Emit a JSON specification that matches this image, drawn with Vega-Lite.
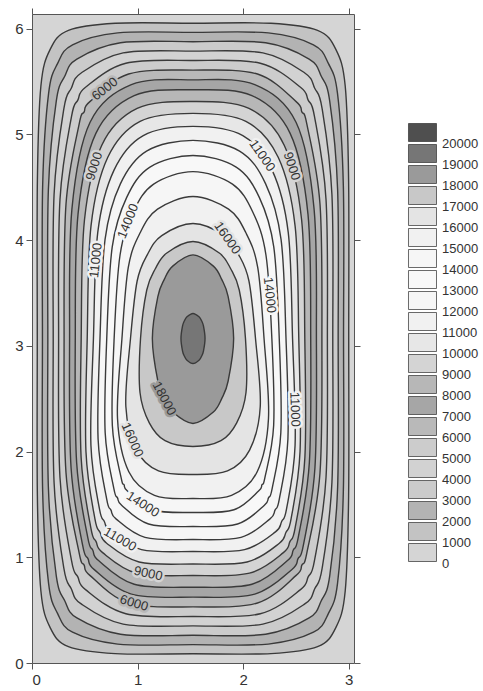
{
"$schema": "https://vega.github.io/schema/vega-lite/v6.json",
"width": 322, "height": 649,
"padding": {"left": 5, "top": 5, "right": 5, "bottom": 5},
"config": {
 "view": {"stroke": null, "fill": "#d5d5d5"},
 "axis": {"domainColor": "#555", "tickColor": "#555", "labelFont": "Liberation Sans", "labelFontSize": 15, "labelColor": "#333", "grid": false, "title": null, "tickSize": 6, "labelPadding": 3}
},
"datasets": {
"contours": [
{"level":1000,"i":0,"x":3.000,"y":3.070},{"level":1000,"i":1,"x":2.999,"y":4.562},{"level":1000,"i":2,"x":2.967,"y":5.456},{"level":1000,"i":3,"x":2.878,"y":5.805},{"level":1000,"i":4,"x":2.705,"y":5.985},{"level":1000,"i":5,"x":2.263,"y":6.052},{"level":1000,"i":6,"x":1.525,"y":6.053},{"level":1000,"i":7,"x":0.788,"y":6.052},{"level":1000,"i":8,"x":0.345,"y":5.985},{"level":1000,"i":9,"x":0.172,"y":5.805},{"level":1000,"i":10,"x":0.084,"y":5.456},{"level":1000,"i":11,"x":0.051,"y":4.562},{"level":1000,"i":12,"x":0.050,"y":3.070},{"level":1000,"i":13,"x":0.051,"y":1.578},{"level":1000,"i":14,"x":0.084,"y":0.684},{"level":1000,"i":15,"x":0.172,"y":0.335},{"level":1000,"i":16,"x":0.345,"y":0.155},{"level":1000,"i":17,"x":0.788,"y":0.089},{"level":1000,"i":18,"x":1.525,"y":0.087},{"level":1000,"i":19,"x":2.263,"y":0.089},{"level":1000,"i":20,"x":2.705,"y":0.155},{"level":1000,"i":21,"x":2.878,"y":0.335},{"level":1000,"i":22,"x":2.967,"y":0.684},{"level":1000,"i":23,"x":2.999,"y":1.578},
{"level":2000,"i":0,"x":2.951,"y":3.070},{"level":2000,"i":1,"x":2.949,"y":4.518},{"level":2000,"i":2,"x":2.894,"y":5.387},{"level":2000,"i":3,"x":2.807,"y":5.673},{"level":2000,"i":4,"x":2.666,"y":5.849},{"level":2000,"i":5,"x":2.238,"y":5.961},{"level":2000,"i":6,"x":1.525,"y":5.966},{"level":2000,"i":7,"x":0.812,"y":5.961},{"level":2000,"i":8,"x":0.384,"y":5.849},{"level":2000,"i":9,"x":0.243,"y":5.673},{"level":2000,"i":10,"x":0.157,"y":5.387},{"level":2000,"i":11,"x":0.101,"y":4.518},{"level":2000,"i":12,"x":0.099,"y":3.070},{"level":2000,"i":13,"x":0.101,"y":1.622},{"level":2000,"i":14,"x":0.157,"y":0.753},{"level":2000,"i":15,"x":0.243,"y":0.467},{"level":2000,"i":16,"x":0.384,"y":0.291},{"level":2000,"i":17,"x":0.812,"y":0.179},{"level":2000,"i":18,"x":1.525,"y":0.174},{"level":2000,"i":19,"x":2.238,"y":0.179},{"level":2000,"i":20,"x":2.666,"y":0.291},{"level":2000,"i":21,"x":2.807,"y":0.467},{"level":2000,"i":22,"x":2.894,"y":0.753},{"level":2000,"i":23,"x":2.949,"y":1.622},
{"level":3000,"i":0,"x":2.900,"y":3.070},{"level":3000,"i":1,"x":2.895,"y":4.474},{"level":3000,"i":2,"x":2.820,"y":5.316},{"level":3000,"i":3,"x":2.740,"y":5.551},{"level":3000,"i":4,"x":2.625,"y":5.714},{"level":3000,"i":5,"x":2.213,"y":5.868},{"level":3000,"i":6,"x":1.525,"y":5.878},{"level":3000,"i":7,"x":0.838,"y":5.868},{"level":3000,"i":8,"x":0.425,"y":5.714},{"level":3000,"i":9,"x":0.310,"y":5.551},{"level":3000,"i":10,"x":0.230,"y":5.316},{"level":3000,"i":11,"x":0.155,"y":4.474},{"level":3000,"i":12,"x":0.150,"y":3.070},{"level":3000,"i":13,"x":0.155,"y":1.666},{"level":3000,"i":14,"x":0.230,"y":0.824},{"level":3000,"i":15,"x":0.310,"y":0.589},{"level":3000,"i":16,"x":0.425,"y":0.426},{"level":3000,"i":17,"x":0.838,"y":0.272},{"level":3000,"i":18,"x":1.525,"y":0.262},{"level":3000,"i":19,"x":2.213,"y":0.272},{"level":3000,"i":20,"x":2.625,"y":0.426},{"level":3000,"i":21,"x":2.740,"y":0.589},{"level":3000,"i":22,"x":2.820,"y":0.824},{"level":3000,"i":23,"x":2.895,"y":1.666},
{"level":4000,"i":0,"x":2.849,"y":3.070},{"level":4000,"i":1,"x":2.841,"y":4.430},{"level":4000,"i":2,"x":2.748,"y":5.245},{"level":4000,"i":3,"x":2.678,"y":5.437},{"level":4000,"i":4,"x":2.584,"y":5.582},{"level":4000,"i":5,"x":2.187,"y":5.772},{"level":4000,"i":6,"x":1.525,"y":5.789},{"level":4000,"i":7,"x":0.863,"y":5.772},{"level":4000,"i":8,"x":0.466,"y":5.582},{"level":4000,"i":9,"x":0.372,"y":5.437},{"level":4000,"i":10,"x":0.302,"y":5.245},{"level":4000,"i":11,"x":0.209,"y":4.430},{"level":4000,"i":12,"x":0.201,"y":3.070},{"level":4000,"i":13,"x":0.209,"y":1.710},{"level":4000,"i":14,"x":0.302,"y":0.895},{"level":4000,"i":15,"x":0.372,"y":0.703},{"level":4000,"i":16,"x":0.466,"y":0.559},{"level":4000,"i":17,"x":0.863,"y":0.368},{"level":4000,"i":18,"x":1.525,"y":0.351},{"level":4000,"i":19,"x":2.187,"y":0.368},{"level":4000,"i":20,"x":2.584,"y":0.559},{"level":4000,"i":21,"x":2.678,"y":0.703},{"level":4000,"i":22,"x":2.748,"y":0.895},{"level":4000,"i":23,"x":2.841,"y":1.710},
{"level":5000,"i":0,"x":2.798,"y":3.070},{"level":5000,"i":1,"x":2.785,"y":4.385},{"level":5000,"i":2,"x":2.675,"y":5.174},{"level":5000,"i":3,"x":2.616,"y":5.325},{"level":5000,"i":4,"x":2.543,"y":5.447},{"level":5000,"i":5,"x":2.162,"y":5.674},{"level":5000,"i":6,"x":1.525,"y":5.700},{"level":5000,"i":7,"x":0.889,"y":5.674},{"level":5000,"i":8,"x":0.507,"y":5.447},{"level":5000,"i":9,"x":0.434,"y":5.325},{"level":5000,"i":10,"x":0.375,"y":5.174},{"level":5000,"i":11,"x":0.265,"y":4.385},{"level":5000,"i":12,"x":0.252,"y":3.070},{"level":5000,"i":13,"x":0.265,"y":1.755},{"level":5000,"i":14,"x":0.375,"y":0.966},{"level":5000,"i":15,"x":0.434,"y":0.815},{"level":5000,"i":16,"x":0.507,"y":0.694},{"level":5000,"i":17,"x":0.889,"y":0.466},{"level":5000,"i":18,"x":1.525,"y":0.440},{"level":5000,"i":19,"x":2.162,"y":0.466},{"level":5000,"i":20,"x":2.543,"y":0.694},{"level":5000,"i":21,"x":2.616,"y":0.815},{"level":5000,"i":22,"x":2.675,"y":0.966},{"level":5000,"i":23,"x":2.785,"y":1.755},
{"level":6000,"i":0,"x":2.746,"y":3.070},{"level":6000,"i":1,"x":2.728,"y":4.340},{"level":6000,"i":2,"x":2.603,"y":5.101},{"level":6000,"i":3,"x":2.556,"y":5.214},{"level":6000,"i":4,"x":2.502,"y":5.311},{"level":6000,"i":5,"x":2.136,"y":5.572},{"level":6000,"i":6,"x":1.525,"y":5.609},{"level":6000,"i":7,"x":0.915,"y":5.572},{"level":6000,"i":8,"x":0.548,"y":5.311},{"level":6000,"i":9,"x":0.494,"y":5.214},{"level":6000,"i":10,"x":0.447,"y":5.101},{"level":6000,"i":11,"x":0.322,"y":4.340},{"level":6000,"i":12,"x":0.304,"y":3.070},{"level":6000,"i":13,"x":0.322,"y":1.800},{"level":6000,"i":14,"x":0.447,"y":1.039},{"level":6000,"i":15,"x":0.494,"y":0.926},{"level":6000,"i":16,"x":0.548,"y":0.829},{"level":6000,"i":17,"x":0.915,"y":0.568},{"level":6000,"i":18,"x":1.525,"y":0.531},{"level":6000,"i":19,"x":2.136,"y":0.568},{"level":6000,"i":20,"x":2.502,"y":0.829},{"level":6000,"i":21,"x":2.556,"y":0.926},{"level":6000,"i":22,"x":2.603,"y":1.039},{"level":6000,"i":23,"x":2.728,"y":1.800},
{"level":7000,"i":0,"x":2.694,"y":3.070},{"level":7000,"i":1,"x":2.672,"y":4.294},{"level":7000,"i":2,"x":2.502,"y":5.114},{"level":7000,"i":3,"x":2.110,"y":5.472},{"level":7000,"i":4,"x":1.525,"y":5.517},{"level":7000,"i":5,"x":0.941,"y":5.472},{"level":7000,"i":6,"x":0.549,"y":5.114},{"level":7000,"i":7,"x":0.378,"y":4.294},{"level":7000,"i":8,"x":0.356,"y":3.070},{"level":7000,"i":9,"x":0.370,"y":1.847},{"level":7000,"i":10,"x":0.480,"y":1.112},{"level":7000,"i":11,"x":0.530,"y":0.987},{"level":7000,"i":12,"x":0.590,"y":0.883},{"level":7000,"i":13,"x":0.941,"y":0.652},{"level":7000,"i":14,"x":1.525,"y":0.623},{"level":7000,"i":15,"x":2.110,"y":0.652},{"level":7000,"i":16,"x":2.460,"y":0.883},{"level":7000,"i":17,"x":2.520,"y":0.987},{"level":7000,"i":18,"x":2.570,"y":1.112},{"level":7000,"i":19,"x":2.680,"y":1.847},
{"level":8000,"i":0,"x":2.640,"y":3.070},{"level":8000,"i":1,"x":2.614,"y":4.247},{"level":8000,"i":2,"x":2.445,"y":5.011},{"level":8000,"i":3,"x":2.083,"y":5.368},{"level":8000,"i":4,"x":1.525,"y":5.423},{"level":8000,"i":5,"x":0.968,"y":5.368},{"level":8000,"i":6,"x":0.605,"y":5.011},{"level":8000,"i":7,"x":0.436,"y":4.247},{"level":8000,"i":8,"x":0.410,"y":3.070},{"level":8000,"i":9,"x":0.423,"y":1.894},{"level":8000,"i":10,"x":0.528,"y":1.188},{"level":8000,"i":11,"x":0.576,"y":1.067},{"level":8000,"i":12,"x":0.633,"y":0.967},{"level":8000,"i":13,"x":0.968,"y":0.745},{"level":8000,"i":14,"x":1.525,"y":0.717},{"level":8000,"i":15,"x":2.083,"y":0.745},{"level":8000,"i":16,"x":2.417,"y":0.967},{"level":8000,"i":17,"x":2.474,"y":1.067},{"level":8000,"i":18,"x":2.522,"y":1.188},{"level":8000,"i":19,"x":2.627,"y":1.894},
{"level":9000,"i":0,"x":2.584,"y":3.070},{"level":9000,"i":1,"x":2.554,"y":4.191},{"level":9000,"i":2,"x":2.389,"y":4.899},{"level":9000,"i":3,"x":2.055,"y":5.247},{"level":9000,"i":4,"x":1.525,"y":5.312},{"level":9000,"i":5,"x":0.996,"y":5.247},{"level":9000,"i":6,"x":0.661,"y":4.899},{"level":9000,"i":7,"x":0.497,"y":4.191},{"level":9000,"i":8,"x":0.466,"y":3.070},{"level":9000,"i":9,"x":0.465,"y":1.949},{"level":9000,"i":10,"x":0.558,"y":1.276},{"level":9000,"i":11,"x":0.607,"y":1.148},{"level":9000,"i":12,"x":0.669,"y":1.044},{"level":9000,"i":13,"x":0.990,"y":0.850},{"level":9000,"i":14,"x":1.525,"y":0.828},{"level":9000,"i":15,"x":2.060,"y":0.850},{"level":9000,"i":16,"x":2.381,"y":1.044},{"level":9000,"i":17,"x":2.443,"y":1.148},{"level":9000,"i":18,"x":2.492,"y":1.276},{"level":9000,"i":19,"x":2.585,"y":1.949},
{"level":10000,"i":0,"x":2.527,"y":3.070},{"level":10000,"i":1,"x":2.492,"y":4.135},{"level":10000,"i":2,"x":2.332,"y":4.785},{"level":10000,"i":3,"x":2.026,"y":5.125},{"level":10000,"i":4,"x":1.525,"y":5.200},{"level":10000,"i":5,"x":1.024,"y":5.125},{"level":10000,"i":6,"x":0.718,"y":4.785},{"level":10000,"i":7,"x":0.559,"y":4.135},{"level":10000,"i":8,"x":0.523,"y":3.070},{"level":10000,"i":9,"x":0.511,"y":2.003},{"level":10000,"i":10,"x":0.596,"y":1.363},{"level":10000,"i":11,"x":0.645,"y":1.235},{"level":10000,"i":12,"x":0.707,"y":1.133},{"level":10000,"i":13,"x":1.014,"y":0.956},{"level":10000,"i":14,"x":1.525,"y":0.937},{"level":10000,"i":15,"x":2.037,"y":0.956},{"level":10000,"i":16,"x":2.343,"y":1.133},{"level":10000,"i":17,"x":2.405,"y":1.235},{"level":10000,"i":18,"x":2.454,"y":1.363},{"level":10000,"i":19,"x":2.539,"y":2.003},
{"level":11000,"i":0,"x":2.468,"y":3.070},{"level":11000,"i":1,"x":2.427,"y":4.074},{"level":11000,"i":2,"x":2.274,"y":4.663},{"level":11000,"i":3,"x":1.997,"y":4.990},{"level":11000,"i":4,"x":1.525,"y":5.077},{"level":11000,"i":5,"x":1.054,"y":4.990},{"level":11000,"i":6,"x":0.777,"y":4.663},{"level":11000,"i":7,"x":0.623,"y":4.074},{"level":11000,"i":8,"x":0.582,"y":3.070},{"level":11000,"i":9,"x":0.558,"y":2.062},{"level":11000,"i":10,"x":0.639,"y":1.458},{"level":11000,"i":11,"x":0.686,"y":1.337},{"level":11000,"i":12,"x":0.744,"y":1.240},{"level":11000,"i":13,"x":1.037,"y":1.073},{"level":11000,"i":14,"x":1.525,"y":1.055},{"level":11000,"i":15,"x":2.013,"y":1.073},{"level":11000,"i":16,"x":2.306,"y":1.240},{"level":11000,"i":17,"x":2.364,"y":1.337},{"level":11000,"i":18,"x":2.411,"y":1.458},{"level":11000,"i":19,"x":2.492,"y":2.062},
{"level":12000,"i":0,"x":2.406,"y":3.070},{"level":12000,"i":1,"x":2.359,"y":4.007},{"level":12000,"i":2,"x":2.213,"y":4.533},{"level":12000,"i":3,"x":1.966,"y":4.843},{"level":12000,"i":4,"x":1.525,"y":4.944},{"level":12000,"i":5,"x":1.085,"y":4.843},{"level":12000,"i":6,"x":0.837,"y":4.533},{"level":12000,"i":7,"x":0.692,"y":4.007},{"level":12000,"i":8,"x":0.644,"y":3.070},{"level":12000,"i":9,"x":0.626,"y":2.119},{"level":12000,"i":10,"x":0.708,"y":1.549},{"level":12000,"i":11,"x":0.748,"y":1.446},{"level":12000,"i":12,"x":0.798,"y":1.361},{"level":12000,"i":13,"x":1.070,"y":1.189},{"level":12000,"i":14,"x":1.525,"y":1.168},{"level":12000,"i":15,"x":1.980,"y":1.189},{"level":12000,"i":16,"x":2.252,"y":1.361},{"level":12000,"i":17,"x":2.302,"y":1.446},{"level":12000,"i":18,"x":2.342,"y":1.549},{"level":12000,"i":19,"x":2.424,"y":2.119},
{"level":13000,"i":0,"x":2.342,"y":3.070},{"level":13000,"i":1,"x":2.290,"y":3.936},{"level":13000,"i":2,"x":2.154,"y":4.403},{"level":13000,"i":3,"x":1.934,"y":4.692},{"level":13000,"i":4,"x":1.525,"y":4.802},{"level":13000,"i":5,"x":1.117,"y":4.692},{"level":13000,"i":6,"x":0.896,"y":4.403},{"level":13000,"i":7,"x":0.760,"y":3.936},{"level":13000,"i":8,"x":0.708,"y":3.070},{"level":13000,"i":9,"x":0.693,"y":2.181},{"level":13000,"i":10,"x":0.776,"y":1.647},{"level":13000,"i":11,"x":0.810,"y":1.562},{"level":13000,"i":12,"x":0.851,"y":1.490},{"level":13000,"i":13,"x":1.104,"y":1.315},{"level":13000,"i":14,"x":1.525,"y":1.291},{"level":13000,"i":15,"x":1.947,"y":1.315},{"level":13000,"i":16,"x":2.199,"y":1.490},{"level":13000,"i":17,"x":2.240,"y":1.562},{"level":13000,"i":18,"x":2.274,"y":1.647},{"level":13000,"i":19,"x":2.357,"y":2.181},
{"level":14000,"i":0,"x":2.272,"y":3.070},{"level":14000,"i":1,"x":2.216,"y":3.860},{"level":14000,"i":2,"x":2.091,"y":4.267},{"level":14000,"i":3,"x":1.899,"y":4.531},{"level":14000,"i":4,"x":1.525,"y":4.649},{"level":14000,"i":5,"x":1.152,"y":4.531},{"level":14000,"i":6,"x":0.959,"y":4.267},{"level":14000,"i":7,"x":0.834,"y":3.860},{"level":14000,"i":8,"x":0.778,"y":3.070},{"level":14000,"i":9,"x":0.761,"y":2.247},{"level":14000,"i":10,"x":0.844,"y":1.753},{"level":14000,"i":11,"x":0.872,"y":1.686},{"level":14000,"i":12,"x":0.904,"y":1.627},{"level":14000,"i":13,"x":1.137,"y":1.450},{"level":14000,"i":14,"x":1.525,"y":1.424},{"level":14000,"i":15,"x":1.913,"y":1.450},{"level":14000,"i":16,"x":2.146,"y":1.627},{"level":14000,"i":17,"x":2.178,"y":1.686},{"level":14000,"i":18,"x":2.206,"y":1.753},{"level":14000,"i":19,"x":2.289,"y":2.247},
{"level":15000,"i":0,"x":2.198,"y":3.070},{"level":15000,"i":1,"x":2.138,"y":3.742},{"level":15000,"i":2,"x":2.026,"y":4.070},{"level":15000,"i":3,"x":1.862,"y":4.294},{"level":15000,"i":4,"x":1.525,"y":4.413},{"level":15000,"i":5,"x":1.189,"y":4.294},{"level":15000,"i":6,"x":1.024,"y":4.070},{"level":15000,"i":7,"x":0.912,"y":3.742},{"level":15000,"i":8,"x":0.852,"y":3.070},{"level":15000,"i":9,"x":0.810,"y":2.313},{"level":15000,"i":10,"x":0.917,"y":1.809},{"level":15000,"i":11,"x":1.160,"y":1.586},{"level":15000,"i":12,"x":1.525,"y":1.556},{"level":15000,"i":13,"x":1.890,"y":1.586},{"level":15000,"i":14,"x":2.133,"y":1.809},{"level":15000,"i":15,"x":2.240,"y":2.313},
{"level":16000,"i":0,"x":2.117,"y":3.070},{"level":16000,"i":1,"x":2.055,"y":3.614},{"level":16000,"i":2,"x":1.957,"y":3.864},{"level":16000,"i":3,"x":1.821,"y":4.043},{"level":16000,"i":4,"x":1.525,"y":4.158},{"level":16000,"i":5,"x":1.229,"y":4.043},{"level":16000,"i":6,"x":1.093,"y":3.864},{"level":16000,"i":7,"x":0.996,"y":3.614},{"level":16000,"i":8,"x":0.933,"y":3.070},{"level":16000,"i":9,"x":0.889,"y":2.427},{"level":16000,"i":10,"x":0.989,"y":2.014},{"level":16000,"i":11,"x":1.198,"y":1.817},{"level":16000,"i":12,"x":1.525,"y":1.783},{"level":16000,"i":13,"x":1.852,"y":1.817},{"level":16000,"i":14,"x":2.061,"y":2.014},{"level":16000,"i":15,"x":2.162,"y":2.427},
{"level":17000,"i":0,"x":2.022,"y":3.070},{"level":17000,"i":1,"x":1.963,"y":3.529},{"level":17000,"i":2,"x":1.882,"y":3.730},{"level":17000,"i":3,"x":1.774,"y":3.879},{"level":17000,"i":4,"x":1.525,"y":3.988},{"level":17000,"i":5,"x":1.277,"y":3.879},{"level":17000,"i":6,"x":1.168,"y":3.730},{"level":17000,"i":7,"x":1.087,"y":3.529},{"level":17000,"i":8,"x":1.028,"y":3.070},{"level":17000,"i":9,"x":1.023,"y":2.559},{"level":17000,"i":10,"x":1.111,"y":2.272},{"level":17000,"i":11,"x":1.260,"y":2.103},{"level":17000,"i":12,"x":1.525,"y":2.048},{"level":17000,"i":13,"x":1.790,"y":2.103},{"level":17000,"i":14,"x":1.939,"y":2.272},{"level":17000,"i":15,"x":2.027,"y":2.559},
{"level":18000,"i":0,"x":1.910,"y":3.070},{"level":18000,"i":1,"x":1.858,"y":3.466},{"level":18000,"i":2,"x":1.797,"y":3.629},{"level":18000,"i":3,"x":1.718,"y":3.755},{"level":18000,"i":4,"x":1.525,"y":3.861},{"level":18000,"i":5,"x":1.333,"y":3.755},{"level":18000,"i":6,"x":1.253,"y":3.629},{"level":18000,"i":7,"x":1.192,"y":3.466},{"level":18000,"i":8,"x":1.140,"y":3.070},{"level":18000,"i":9,"x":1.192,"y":2.668},{"level":18000,"i":10,"x":1.253,"y":2.501},{"level":18000,"i":11,"x":1.333,"y":2.374},{"level":18000,"i":12,"x":1.525,"y":2.266},{"level":18000,"i":13,"x":1.718,"y":2.374},{"level":18000,"i":14,"x":1.797,"y":2.501},{"level":18000,"i":15,"x":1.858,"y":2.668},
{"level":19000,"i":0,"x":1.639,"y":3.070},{"level":19000,"i":1,"x":1.624,"y":3.189},{"level":19000,"i":2,"x":1.606,"y":3.238},{"level":19000,"i":3,"x":1.582,"y":3.275},{"level":19000,"i":4,"x":1.525,"y":3.307},{"level":19000,"i":5,"x":1.468,"y":3.275},{"level":19000,"i":6,"x":1.444,"y":3.238},{"level":19000,"i":7,"x":1.426,"y":3.189},{"level":19000,"i":8,"x":1.411,"y":3.070},{"level":19000,"i":9,"x":1.426,"y":2.951},{"level":19000,"i":10,"x":1.444,"y":2.902},{"level":19000,"i":11,"x":1.468,"y":2.865},{"level":19000,"i":12,"x":1.525,"y":2.833},{"level":19000,"i":13,"x":1.582,"y":2.865},{"level":19000,"i":14,"x":1.606,"y":2.902},{"level":19000,"i":15,"x":1.624,"y":2.951}
],
"labels": [
{"label":"6000","x":0.69,"y":5.43,"angle":-38},
{"label":"9000","x":0.59,"y":4.70,"angle":-72},
{"label":"11000","x":0.605,"y":3.81,"angle":-84},
{"label":"14000","x":0.91,"y":4.18,"angle":-68},
{"label":"16000","x":1.85,"y":4.02,"angle":55},
{"label":"11000","x":2.18,"y":4.80,"angle":55},
{"label":"9000","x":2.46,"y":4.70,"angle":72},
{"label":"14000","x":2.25,"y":3.48,"angle":84},
{"label":"18000","x":1.253,"y":2.501,"angle":62},
{"label":"11000","x":2.49,"y":2.40,"angle":88},
{"label":"16000","x":0.95,"y":2.11,"angle":66},
{"label":"14000","x":1.05,"y":1.50,"angle":33},
{"label":"11000","x":0.834,"y":1.17,"angle":30},
{"label":"9000","x":1.10,"y":0.845,"angle":12},
{"label":"6000","x":0.966,"y":0.566,"angle":17}
]
},
"layer": [
{
 "data": {"name": "contours"},
 "mark": {"type": "line", "filled": true, "interpolate": "cardinal-closed", "stroke": "#3a3a3a", "opacity": 1},
 "encoding": {
  "x": {"field": "x", "type": "quantitative", "scale": {"domain": [0, 3.05], "nice": false, "zero": false}, "axis": {"orient": "bottom", "values": [0, 1, 2, 3]}},
  "y": {"field": "y", "type": "quantitative", "scale": {"domain": [0, 6.14], "nice": false, "zero": false}, "axis": {"orient": "left", "values": [0, 1, 2, 3, 4, 5, 6], "minExtent": 27, "maxExtent": 27}},
  "strokeWidth": {"value": 1.4},
  "color": {"field": "level", "type": "ordinal",
   "scale": {"domain": [20000,19000,18000,17000,16000,15000,14000,13000,12000,11000,10000,9000,8000,7000,6000,5000,4000,3000,2000,1000,0],
             "range": ["#4f4f4f","#767676","#9a9a9a","#c8c8c8","#e4e4e4","#f1f1f1","#f6f6f6","#f8f8f8","#f6f6f6","#f1f1f1","#e7e7e7","#d4d4d4","#b7b7b7","#a6a6a6","#b9b9b9","#cccccc","#d2d2d2","#cbcbcb","#b3b3b3","#c3c3c3","#d5d5d5"]},
   "legend": {"title": null, "orient": "none", "legendX": 381, "legendY": 109, "symbolType": "M-1.556,-1H1.556V1H-1.556Z", "symbolSize": 324, "symbolStrokeColor": "#3a3a3a", "symbolStrokeWidth": 0.75, "symbolOpacity": 1, "rowPadding": 0, "labelFontSize": 13, "labelOpacity": 0, "labelExpr": "''", "padding": 0}},
  "order": {"field": "i", "type": "quantitative"}
 }
},
{
 "data": {"name": "labels"},
 "mark": {"type": "text", "font": "Liberation Sans", "fontSize": 13, "strokeJoin": "round", "fill": "#333"},
 "encoding": {
  "x": {"field": "x", "type": "quantitative", "axis": {"orient": "top", "labels": false, "values": [0, 1, 2, 3], "minExtent": 9, "maxExtent": 9}},
  "y": {"field": "y", "type": "quantitative", "axis": {"orient": "right", "labels": false, "values": [0, 1, 2, 3, 4, 5, 6]}},
  "text": {"field": "label"},
  "angle": {"field": "angle", "type": "quantitative", "scale": null},
  "strokeWidth": {"value": 5},
  "stroke": {"field": "label", "type": "ordinal",
   "scale": {"domain": ["20000","19000","18000","17000","16000","15000","14000","13000","12000","11000","10000","9000","8000","7000","6000","5000","4000","3000","2000","1000","0"],
             "range": ["#4f4f4f","#767676","#9a9a9a","#c8c8c8","#e4e4e4","#f1f1f1","#f6f6f6","#f8f8f8","#f6f6f6","#f1f1f1","#e7e7e7","#d4d4d4","#b7b7b7","#a6a6a6","#b9b9b9","#cccccc","#d2d2d2","#cbcbcb","#b3b3b3","#c3c3c3","#d5d5d5"]},
   "legend": {"title": null, "orient": "none", "legendX": 381, "legendY": 119, "symbolType": "M-1.474,-1H1.474V1H-1.474Z", "symbolSize": 361, "symbolStrokeWidth": 3, "symbolOpacity": 0, "rowPadding": 0, "labelFontSize": 13, "labelFont": "Liberation Sans", "labelColor": "#333", "labelOffset": 7, "labelBaseline": "middle", "padding": 0}}
 }
},
{
 "data": {"name": "labels"},
 "mark": {"type": "text", "font": "Liberation Sans", "fontSize": 13, "fill": "#333"},
 "encoding": {
  "x": {"field": "x", "type": "quantitative", "axis": null},
  "y": {"field": "y", "type": "quantitative", "axis": null},
  "text": {"field": "label"},
  "angle": {"field": "angle", "type": "quantitative", "scale": null}
 }
}
],
"resolve": {"axis": {"x": "independent", "y": "independent"}}
}
